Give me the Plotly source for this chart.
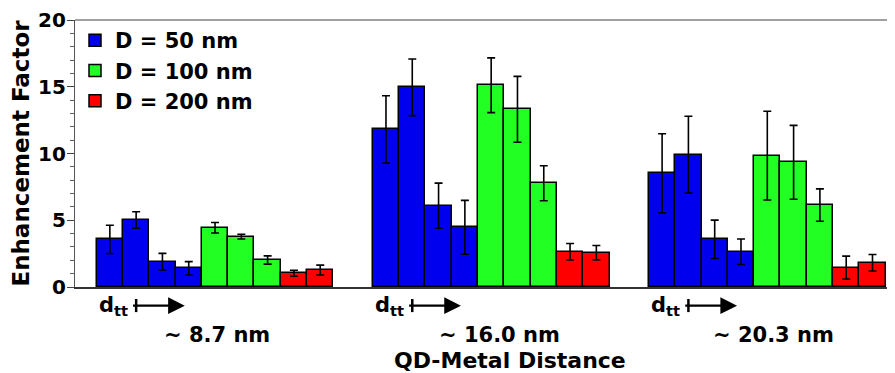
import plotly.graph_objects as go

# ---- data ----
group_labels = ["~ 8.7 nm", "~ 16.0 nm", "~ 20.3 nm"]
series_names = ["D = 50 nm", "D = 100 nm", "D = 200 nm"]
series_colors = ["#0000ee", "#22ff22", "#ff0000"]

d50_values = [[3.57, 5.02, 1.90, 1.40], [11.81, 14.96, 6.09, 4.47], [8.52, 9.91, 3.57, 2.64]]
d50_errors = [[1.06, 0.62, 0.62, 0.50], [2.52, 2.12, 1.69, 2.02], [2.96, 2.88, 1.44, 0.96]]
d100_values = [[4.44, 3.77, 2.02], [15.11, 13.31, 7.77], [9.84, 9.34, 6.14]]
d100_errors = [[0.39, 0.18, 0.31], [2.05, 2.47, 1.31], [3.32, 2.77, 1.21]]
d200_values = [[1.03, 1.27], [2.64, 2.57], [1.45, 1.82]]
d200_errors = [[0.23, 0.37], [0.62, 0.54], [0.86, 0.62]]

y_tick_values = [0, 5, 10, 15, 20]

FONT = "DejaVu Sans"
GROUP_STEP = 10.5
X_RANGE = [-1.325, 30.16]

series_values = [d50_values, d100_values, d200_values]
series_errors = [d50_errors, d100_errors, d200_errors]

# compute x positions of bars
xs = [[] for _ in series_values]
ys = [[] for _ in series_values]
es = [[] for _ in series_values]
for g in range(len(group_labels)):
    slot = 0
    for s in range(len(series_values)):
        for v, e in zip(series_values[s][g], series_errors[s][g]):
            xs[s].append(g * GROUP_STEP + slot)
            ys[s].append(v)
            es[s].append(e)
            slot += 1

fig = go.Figure()
for s in range(len(series_values)):
    fig.add_trace(go.Bar(
        x=xs[s], y=ys[s], width=1.0, name=series_names[s],
        marker=dict(color=series_colors[s], line=dict(color="black", width=1.5)),
        error_y=dict(type="data", array=es[s], visible=True, color="black",
                     thickness=1.6, width=4),
    ))


def to_paper_x(xd):
    return (xd - X_RANGE[0]) / (X_RANGE[1] - X_RANGE[0])


bold = dict(family=FONT, color="black", weight="bold")
annotations = []
shapes = [dict(type="line", xref="paper", yref="paper", x0=0, x1=1, y0=1, y1=1,
               line=dict(color="#808080", width=1.5))]
group_label_offsets = [4.56, 4.8, 4.72]
for g, lab in enumerate(group_labels):
    base = g * GROUP_STEP
    # d_tt label with arrow to the right
    annotations.append(dict(x=base + 2.85, y=-0.07, xref="x", yref="paper",
                            ax=base + 0.12, ay=0, axref="x", ayref="pixel",
                            text="d<sub>tt</sub>", font=dict(size=21, **bold),
                            showarrow=True, arrowhead=2, arrowsize=1.45, arrowwidth=2.3,
                            arrowcolor="black", standoff=0, startstandoff=4))
    # vertical bar of the arrow tail
    px = to_paper_x(base + 1.0)
    shapes.append(dict(type="line", xref="paper", yref="paper", x0=px, x1=px,
                       y0=-0.045, y1=-0.094, line=dict(color="black", width=2.5)))
    annotations.append(dict(x=base - 0.5 + group_label_offsets[g], y=-0.18, xref="x", yref="paper",
                            text=lab, showarrow=False, xanchor="center", yanchor="middle",
                            font=dict(size=21, **bold)))

annotations.append(dict(x=15.2, y=-0.277, xref="x", yref="paper", text="QD-Metal Distance",
                        showarrow=False, xanchor="center", yanchor="middle",
                        font=dict(size=22, **bold)))

fig.update_layout(
    width=895, height=373,
    margin=dict(l=67, r=0, t=12, b=94, autoexpand=False),
    paper_bgcolor="white", plot_bgcolor="white",
    barmode="overlay", bargap=0,
    font=dict(family=FONT, color="black"),
    showlegend=True,
    legend=dict(x=0.0, y=1.0, xanchor="left", yanchor="top",
                bgcolor="rgba(255,255,255,0)", tracegroupgap=0,
                font=dict(size=21, **bold)),
    annotations=annotations,
    shapes=shapes,
)
fig.update_xaxes(range=X_RANGE, showticklabels=False, ticks="",
                 showgrid=False, zeroline=False, showline=True, automargin=False,
                 linecolor="#333333", linewidth=1.5)
fig.update_yaxes(range=[0, 20], tickvals=y_tick_values, ticks="outside", ticklen=7,
                 tickwidth=1, tickcolor="#444444", automargin=False, ticklabelstandoff=-3,
                 minor=dict(dtick=1, ticks="outside", ticklen=4, tickcolor="#666666", showgrid=False),
                 showgrid=False, zeroline=False, showline=True, linecolor="#555555", linewidth=1.2,
                 tickfont=dict(size=20, **bold),
                 title=dict(text="Enhancement Factor", standoff=4,
                            font=dict(size=23, **bold)))

fig.write_html("out.html")
